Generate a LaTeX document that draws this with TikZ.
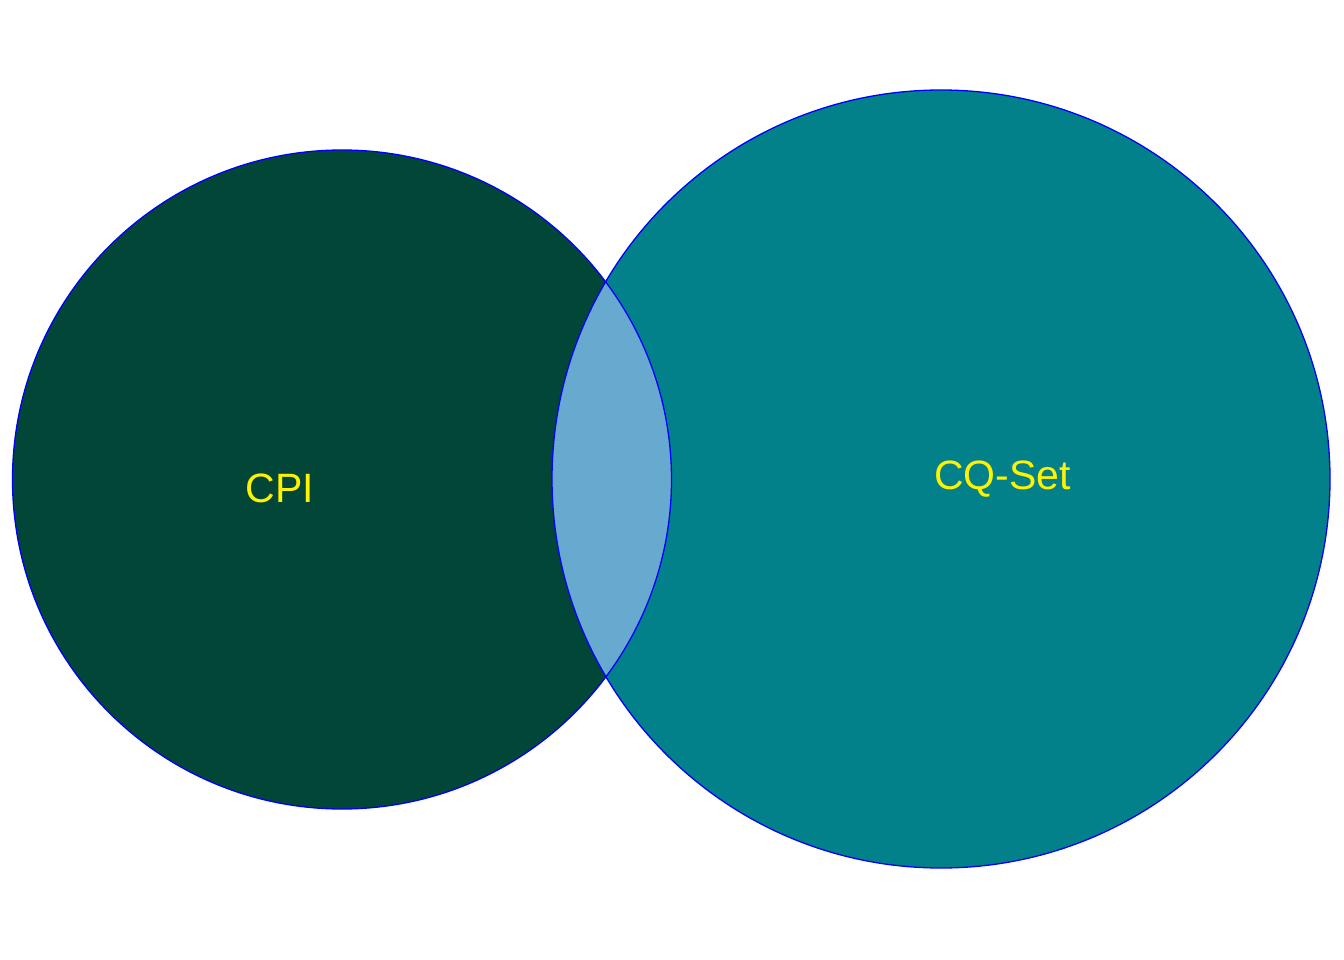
\documentclass[tikz,border=0pt]{standalone}
\usepackage{fontspec}
\setmainfont{Liberation Sans}
\definecolor{cpicol}{HTML}{014636}
\definecolor{cqcol}{HTML}{02818A}
\definecolor{lenscol}{HTML}{67A9CF}
\definecolor{edgecol}{HTML}{0000FF}
\begin{document}
\begin{tikzpicture}[x=1pt,y=-1pt,
  setedge/.style={draw=edgecol, line width=1.3pt},
  setlabel/.style={text=yellow, font=\fontsize{41}{41}\selectfont, anchor=base, inner sep=0pt}]
\useasboundingbox (0,0) rectangle (1344,960);
\fill[white] (0,0) rectangle (1344,960);
\coordinate (c1) at (342,479.5);
\coordinate (c2) at (941,479);
\fill[cpicol] (c1) circle[radius=329.5];
\fill[cqcol] (c2) circle[radius=389];
\begin{scope}
  \clip (c1) circle[radius=329.5];
  \fill[lenscol] (c2) circle[radius=389];
\end{scope}
\draw[setedge] (c1) circle[radius=329.5];
\draw[setedge] (c2) circle[radius=389];
\node[setlabel] (cpi) at (280,502) {CPI};
\node[setlabel] (cq) at (1002.5,489) {CQ-Set};
\end{tikzpicture}
\end{document}
